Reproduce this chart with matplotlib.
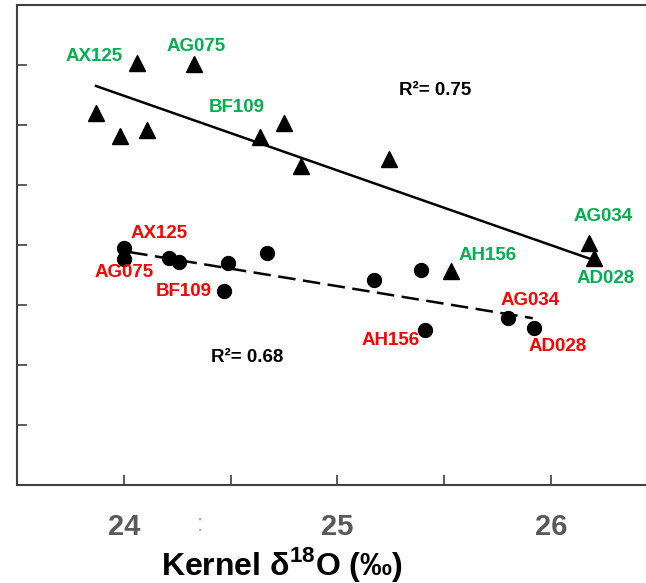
import matplotlib
matplotlib.use("Agg")
import matplotlib.pyplot as plt

plt.rcParams['font.family'] = ['Liberation Sans', 'DejaVu Sans']
plt.rcParams['mathtext.fontset'] = 'custom'
plt.rcParams['mathtext.bf'] = 'Liberation Sans:bold'
plt.rcParams['mathtext.rm'] = 'Liberation Sans'

# triangles (upper group)
tri_x = [23.87, 24.06, 24.33, 23.98, 24.11, 24.64, 24.75, 24.83, 25.24, 25.53, 26.18, 26.20]
tri_y = [6.20, 7.03, 7.01, 5.81, 5.91, 5.80, 6.03, 5.31, 5.43, 3.57, 4.03, 3.78]

# circles (lower group)
circ_x = [24.00, 24.00, 24.21, 24.26, 24.49, 24.47, 24.67, 25.17, 25.39, 25.41, 25.80, 25.92]
circ_y = [3.95, 3.77, 3.79, 3.72, 3.70, 3.24, 3.86, 3.42, 3.58, 2.58, 2.78, 2.61]

# regression lines (end points)
fit_tri_x = [23.87, 26.215]
fit_tri_y = [6.65, 3.73]
fit_circ_x = [24.03, 25.915]
fit_circ_y = [3.88, 2.78]

# sample labels: name, index of point
tri_names = ["AX125", "AG075", "BF109", "AG034", "AH156", "AD028"]
tri_idx = [1, 2, 5, 10, 9, 11]
circ_names = ["AX125", "AG075", "BF109", "AG034", "AH156", "AD028"]
circ_idx = [0, 1, 5, 10, 9, 11]

r2_tri = "0.75"
r2_circ = "0.68"

# label offsets in pixels
tri_off = [(-43, 7), (2, 18), (-24, 29), (14, 27), (37, 15), (12, -20)]
circ_off = [(35, 15), (0, -14), (-40, -1), (22, 18), (-34, -10), (24, -18)]

green = "#00B050"
red = "#FF0000"
spine_col = "#404040"

fig = plt.figure(figsize=(6.46, 5.83), dpi=100)
ax = fig.add_axes([17 / 646, 98 / 583, 629 / 646, 480 / 583])

ax.plot(fit_tri_x, fit_tri_y, color="black", lw=1.8)
ax.plot(fit_circ_x, fit_circ_y, color="black", lw=1.8, linestyle=(0, (7, 3)))
ax.plot(tri_x, tri_y, "^", color="black", ms=11, mec="black")
ax.plot(circ_x, circ_y, "o", color="black", ms=10)

for name, i, off in zip(tri_names, tri_idx, tri_off):
    ax.annotate(name, (tri_x[i], tri_y[i]), xytext=off, textcoords="offset pixels",
                ha="center", va="center", color=green, fontsize=13.5, fontweight="bold")
for name, i, off in zip(circ_names, circ_idx, circ_off):
    ax.annotate(name, (circ_x[i], circ_y[i]), xytext=off, textcoords="offset pixels",
                ha="center", va="center", color=red, fontsize=13.5, fontweight="bold")

ax.text(25.46, 6.57, "R²= " + r2_tri, ha="center", va="center", fontsize=13.5, fontweight="bold")
ax.text(24.58, 2.13, "R²= " + r2_circ, ha="center", va="center", fontsize=13.5, fontweight="bold")

ax.set_xlim(23.5, 26.445)
ax.set_ylim(0, 8)

ax.set_xticks([24, 25, 26])
ax.set_xticklabels(["24", "25", "26"])
ax.set_xticks([24.5, 25.5], minor=True)
ax.set_yticks([1, 2, 3, 4, 5, 6, 7])
ax.set_yticklabels([])
ax.tick_params(axis="both", which="both", direction="in", length=7, width=1.2, color=spine_col)
ax.tick_params(axis="x", which="major", pad=20, labelsize=21, labelcolor="#595959")
for lab in ax.get_xticklabels():
    lab.set_fontweight("bold")

# faint scanning artefact next to the "24" label
ax.text(24.356, -0.67, ":", ha="center", va="center", fontsize=17, color="#b4b4b4")

ax.set_xlabel("Kernel δ$^{\\mathbf{18}}$O (‰)", fontsize=23, fontweight="bold")
ax.xaxis.set_label_coords((282 - 17) / 629, -(545 - 485) / 480)

for s in ["left", "top", "bottom"]:
    ax.spines[s].set_color(spine_col)
    ax.spines[s].set_linewidth(1.5)
ax.spines["right"].set_visible(False)

fig.savefig("out.png", dpi=100)
